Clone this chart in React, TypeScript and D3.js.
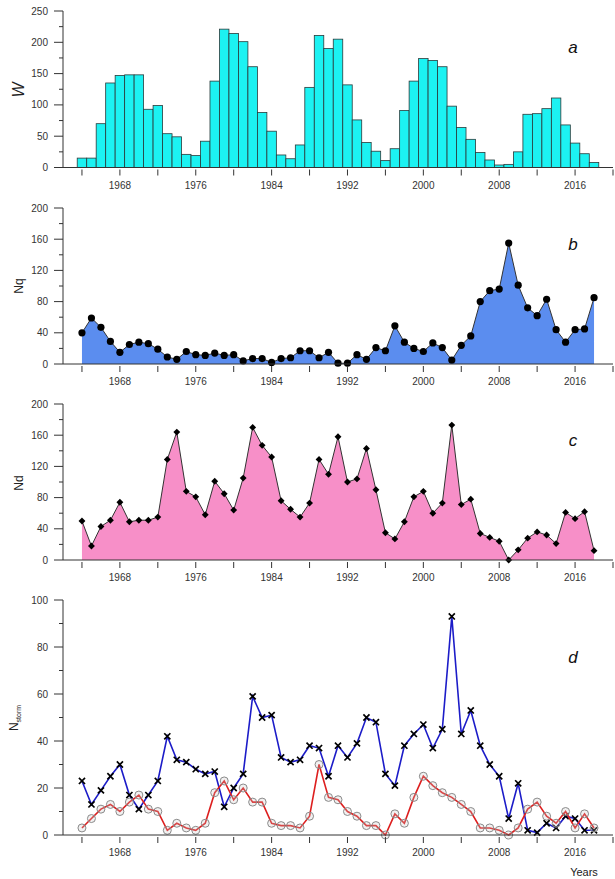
import * as d3 from "d3";

// yearly values 1964..2018
const firstYear = 1964;
const wolf = [15, 15, 70, 135, 147, 148, 148, 93, 99, 54, 49, 21, 19, 42, 138, 221, 214, 201, 161, 88, 58, 20, 14, 36, 128, 211, 190, 205, 132, 76, 40, 26, 11, 30, 91, 138, 174, 171, 161, 98, 64, 45, 24, 12, 4, 5, 25, 85, 86, 94, 111, 68, 39, 22, 8];
const nq = [40, 59, 47, 29, 15, 25, 28, 26, 19, 9, 6, 16, 12, 11, 14, 11, 12, 4, 7, 7, 2, 7, 8, 17, 17, 8, 15, 1, 1, 12, 6, 21, 17, 49, 28, 20, 16, 27, 21, 5, 24, 36, 80, 94, 96, 155, 101, 72, 62, 83, 44, 28, 44, 45, 85];
const nd = [50, 18, 43, 51, 74, 49, 51, 51, 55, 129, 164, 88, 81, 58, 101, 85, 64, 105, 170, 147, 132, 76, 65, 55, 73, 129, 110, 158, 100, 104, 143, 90, 35, 27, 49, 81, 88, 60, 73, 173, 71, 78, 34, 29, 24, 0, 13, 28, 36, 32, 21, 61, 53, 62, 12];
const stormAll = [23, 13, 19, 25, 30, 17, 11, 17, 23, 42, 32, 31, 28, 26, 27, 12, 20, 26, 59, 50, 51, 33, 31, 32, 38, 37, 25, 38, 33, 39, 50, 48, 26, 21, 38, 43, 47, 37, 45, 93, 43, 53, 38, 30, 25, 7, 22, 2, 1, 5, 3, 8, 7, 2, 2];
const stormStrong = [3, 7, 11, 13, 10, 14, 17, 11, 10, 2, 5, 3, 2, 5, 18, 23, 15, 20, 14, 14, 5, 4, 4, 3, 8, 30, 16, 15, 10, 8, 4, 4, 0, 9, 5, 16, 25, 21, 18, 16, 13, 10, 3, 3, 2, 0, 3, 11, 14, 8, 5, 10, 3, 9, 3];

const xTicks = [1964, 1968, 1972, 1976, 1980, 1984, 1988, 1992, 1996, 2000, 2004, 2008, 2012, 2016, 2020];
const xLabels = [1968, 1976, 1984, 1992, 2000, 2008, 2016];

const width = 615;
const height = 879;
const font = "'Liberation Sans', Arial, sans-serif";
const axisColor = "#333";

const x = d3.scaleLinear().domain([1962, 2020]).range([63, 613]);
const yr = (i: number) => firstYear + i;

interface PanelProps {
    top: number;
    bottom: number;
    max: number;
    step: number;
    letter: string;
    children: (y: d3.ScaleLinear<number, number>) => React.ReactNode;
}

const Panel = ({top, bottom, max, step, letter, children}: PanelProps) => {
    const y = d3.scaleLinear().domain([0, max]).range([bottom, top]);
    const major = d3.range(0, max + 0.001, step);
    const minor = d3.range(step / 2, max, step);
    return <g>
        {children(y)}
        {/* y axis */}
        <line x1={x(1962)} x2={x(1962)} y1={top} y2={bottom} stroke={axisColor} strokeWidth={1}/>
        {major.map(v => (
            <g key={"M" + v}>
                <line x1={x(1962) - 9} x2={x(1962)} y1={y(v)} y2={y(v)} stroke={axisColor}/>
                <text x={48} y={y(v)} dy="0.35em" textAnchor="end" fontSize={10} fill="#333">{v}</text>
            </g>
        ))}
        {minor.map(v => (
            <line key={"m" + v} x1={x(1962) - 4} x2={x(1962)} y1={y(v)} y2={y(v)} stroke={axisColor}/>
        ))}
        {/* x axis */}
        <line x1={x(1962)} x2={x(2020)} y1={bottom} y2={bottom} stroke={axisColor}/>
        {xTicks.map(t => (
            <line key={"t" + t} x1={x(t)} x2={x(t)} y1={bottom + 2} y2={bottom + 8} stroke={axisColor}/>
        ))}
        {xLabels.map(t => (
            <text key={"l" + t} x={x(t)} y={bottom + 21} textAnchor="middle" fontSize={10} fill="#333">{t}</text>
        ))}
        <text x={573} y={top + (bottom - top) * 0.27} fontSize={17} fontStyle="italic" textAnchor="middle" fill="#111">{letter}</text>
    </g>;
};

export default function App() {
    const area = (data: number[], y: d3.ScaleLinear<number, number>) =>
        d3.area<number>().x((_, i) => x(yr(i))).y0(y(0)).y1(d => y(d))(data) ?? "";
    const line = (data: number[], y: d3.ScaleLinear<number, number>) =>
        d3.line<number>().x((_, i) => x(yr(i))).y(d => y(d))(data) ?? "";

    return <svg width={width} height={height} style={{position: "absolute", left: 0, top: 0, fontFamily: font}}>
        <rect width={width} height={height} fill="white"/>

        {/* a: sunspot number */}
        <Panel top={11} bottom={167.5} max={250} step={50} letter="a">
            {y => wolf.map((v, i) => (
                <rect key={i} x={x(yr(i) - 0.5)} width={x(yr(i) + 0.5) - x(yr(i) - 0.5)} y={y(v)} height={y(0) - y(v)}
                      fill="#1CF2F2" stroke="#2a3a3a" strokeWidth={0.8}/>
            ))}
        </Panel>
        <text transform="translate(24,90) rotate(-90)" textAnchor="middle" fontSize={16} fontStyle="italic" fill="#222">W</text>

        {/* b: Nq */}
        <Panel top={208} bottom={364} max={200} step={40} letter="b">
            {y => <g>
                <path d={area(nq, y)} fill="#5B8DEF"/>
                <path d={line(nq, y)} fill="none" stroke="#333" strokeWidth={1}/>
                {nq.map((v, i) => <circle key={i} cx={x(yr(i))} cy={y(v)} r={3.6} fill="#000"/>)}
            </g>}
        </Panel>
        <text transform="translate(23,286) rotate(-90)" textAnchor="middle" fontSize={12} fill="#222">Nq</text>

        {/* c: Nd */}
        <Panel top={404} bottom={560} max={200} step={40} letter="c">
            {y => <g>
                <path d={area(nd, y)} fill="#F78FC8"/>
                <path d={line(nd, y)} fill="none" stroke="#333" strokeWidth={1}/>
                {nd.map((v, i) => (
                    <path key={i} d={d3.symbol(d3.symbolDiamond2, 30)() ?? ""}
                          transform={`translate(${x(yr(i))},${y(v)})`} fill="#000"/>
                ))}
            </g>}
        </Panel>
        <text transform="translate(23,483) rotate(-90)" textAnchor="middle" fontSize={12} fill="#222">Nd</text>

        {/* d: storms */}
        <Panel top={600} bottom={835} max={100} step={20} letter="d">
            {y => <g>
                <path d={line(stormAll, y)} fill="none" stroke="#1C1CC8" strokeWidth={1.6}/>
                {stormAll.map((v, i) => (
                    <path key={i} d={d3.symbol(d3.symbolX, 26)() ?? ""}
                          transform={`translate(${x(yr(i))},${y(v)})`} stroke="#000" strokeWidth={1.7} fill="none"/>
                ))}
                <path d={line(stormStrong, y)} fill="none" stroke="#DD1F1F" strokeWidth={1.6}/>
                {stormStrong.map((v, i) => (
                    <circle key={i} cx={x(yr(i))} cy={y(v)} r={4} fill="rgba(200,200,200,0.25)" stroke="#8a8a8a" strokeWidth={1}/>
                ))}
            </g>}
        </Panel>
        <text transform="translate(18,718) rotate(-90)" textAnchor="middle" fontSize={12} fill="#222">
            N<tspan fontSize={7} dy={3}>storm</tspan>
        </text>
        <text x={584} y={876} textAnchor="middle" fontSize={11} fill="#222">Years</text>
    </svg>;
}
